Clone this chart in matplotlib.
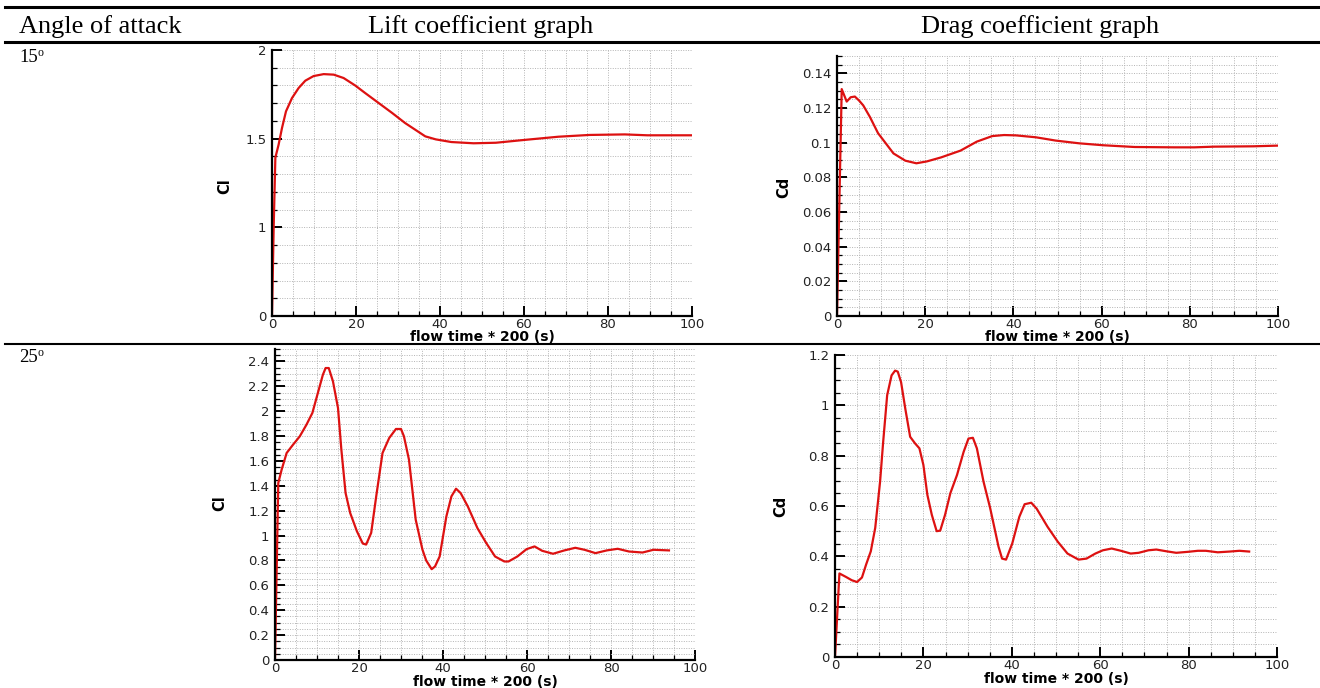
import matplotlib.pyplot as plt
from matplotlib.ticker import MultipleLocator, FuncFormatter

# lift / drag histories, alpha = 15 deg
t_cl15 = [0, 0.4, 0.8, 1.57, 2.38, 3.33, 4.76, 6.35, 7.93, 9.9, 12.3, 14.7, 17.05, 19.8, 22.2,
          25.4, 28.6, 31.7, 34.9, 36.5, 39.0, 42.7, 48.0, 53.3, 59.7, 68.2, 75.6, 84.0, 89.4, 100]
cl15 = [0.5, 1.0, 1.393, 1.466, 1.56, 1.654, 1.729, 1.786, 1.827, 1.853, 1.864, 1.861, 1.842,
        1.8, 1.757, 1.701, 1.645, 1.588, 1.538, 1.513, 1.496, 1.481, 1.474, 1.477, 1.492, 1.511,
        1.521, 1.524, 1.519, 1.519]

t_cd15 = [0, 1.07, 2.2, 3.1, 4.05, 5.0, 5.95, 7.45, 9.3, 12.8, 15.5, 18.0, 20.4, 23.6, 28.0,
          31.7, 35.2, 37.9, 40.6, 45.1, 49.6, 55.0, 60.4, 67.5, 76.5, 81.0, 85.5, 94.4, 100]
cd15 = [0, 0.1309, 0.1237, 0.1262, 0.1266, 0.1243, 0.1215, 0.1149, 0.1055, 0.0938, 0.0896,
        0.0881, 0.0892, 0.0915, 0.0954, 0.1006, 0.1038, 0.1044, 0.1042, 0.1031, 0.1012, 0.0996,
        0.0985, 0.0975, 0.0973, 0.0973, 0.0977, 0.0979, 0.0983]

# alpha = 25 deg
t_cl25 = [0, 0.78, 1.58, 2.77, 4.3, 5.9, 7.5, 8.9, 10.2, 11.4, 12.05, 12.8, 13.8, 15.0, 15.8,
          16.8, 17.9, 19.5, 20.9, 21.7, 22.9, 24.1, 25.6, 27.2, 28.8, 30.0, 30.7, 31.9, 33.5,
          35.1, 36.0, 37.3, 38.1, 39.2, 40.8, 42.0, 43.1, 44.2, 45.9, 48.2, 50.3, 52.4, 54.6,
          55.6, 57.7, 59.9, 61.8, 63.6, 66.2, 68.9, 71.5, 73.7, 76.3, 79.0, 81.6, 84.3, 87.5,
          90.1, 93.8]
cl25 = [0, 1.423, 1.53, 1.664, 1.731, 1.798, 1.892, 1.986, 2.146, 2.293, 2.347, 2.347, 2.24,
        2.026, 1.691, 1.343, 1.182, 1.035, 0.936, 0.928, 1.022, 1.316, 1.664, 1.785, 1.857,
        1.857, 1.798, 1.61, 1.128, 0.888, 0.8, 0.73, 0.752, 0.832, 1.154, 1.315, 1.377, 1.342,
        1.235, 1.06, 0.94, 0.832, 0.792, 0.792, 0.832, 0.891, 0.913, 0.878, 0.854, 0.881,
        0.902, 0.886, 0.859, 0.881, 0.894, 0.872, 0.864, 0.886, 0.881]

t_cd25 = [0, 1.0, 2.5, 3.8, 5.0, 6.1, 7.05, 8.1, 9.1, 10.2, 10.9, 11.8, 12.8, 13.6, 14.2, 14.95,
          15.9, 17.0, 18.1, 19.1, 20.0, 20.9, 21.9, 23.0, 23.8, 24.9, 26.1, 27.6, 29.1, 30.2,
          31.2, 32.1, 33.6, 35.1, 37.0, 37.8, 38.7, 40.1, 41.7, 42.9, 44.4, 45.6, 48.1, 50.4,
          52.6, 55.1, 56.9, 58.9, 60.6, 62.6, 64.7, 66.9, 68.7, 70.9, 72.7, 75.0, 77.2, 79.9,
          82.1, 83.9, 86.6, 89.3, 91.5, 93.7]
cd25 = [0, 0.332, 0.318, 0.305, 0.298, 0.316, 0.368, 0.42, 0.513, 0.697, 0.855, 1.04, 1.119,
        1.138, 1.134, 1.092, 0.987, 0.875, 0.849, 0.829, 0.763, 0.644, 0.565, 0.5, 0.502,
        0.565, 0.651, 0.723, 0.815, 0.868, 0.871, 0.829, 0.697, 0.592, 0.438, 0.391, 0.387,
        0.451, 0.557, 0.607, 0.613, 0.59, 0.517, 0.458, 0.411, 0.387, 0.391, 0.411, 0.424,
        0.431, 0.422, 0.411, 0.414, 0.424, 0.427, 0.42, 0.414, 0.418, 0.422, 0.422, 0.416,
        0.419, 0.422, 0.419]

W, H = 1320, 688
RED = '#dd1111'


def box(left, top, right, bottom):
    return [left / W, 1 - bottom / H, (right - left) / W, (bottom - top) / H]


def history_axes(fig, rect, t, c, ylim, ymajor, yminor, ylabel, ylab_xy, xlab_y, yticklabels=None):
    ax = fig.add_axes(rect)
    ax.plot(t, c, color=RED, lw=1.6, solid_joinstyle='round')
    ax.set_xlim(0, 100)
    ax.set_ylim(*ylim)
    ax.xaxis.set_major_locator(MultipleLocator(20))
    ax.xaxis.set_minor_locator(MultipleLocator(5))
    ax.yaxis.set_major_locator(MultipleLocator(ymajor))
    ax.yaxis.set_minor_locator(MultipleLocator(yminor))
    ax.yaxis.set_major_formatter(FuncFormatter(lambda v, pos: '%g' % round(v, 6)))
    if yticklabels is not None:
        ax.set_yticks(yticklabels[0])
        ax.set_yticklabels(yticklabels[1])
    ax.grid(True, which='both', ls=(0, (1, 1.5)), color='#b4b4b4', lw=0.7)
    ax.set_axisbelow(True)
    for side in ('top', 'right'):
        ax.spines[side].set_visible(False)
    for side in ('left', 'bottom'):
        ax.spines[side].set_linewidth(1.6)
    ax.tick_params(which='major', direction='in', length=7, width=1.4, labelsize=9.5,
                   labelcolor='#222222')
    ax.tick_params(which='minor', direction='in', length=3.5, width=0.9)
    ax.tick_params(axis='x', pad=1.5)
    ax.tick_params(axis='y', pad=4)
    ax.set_xlabel('flow time * 200 (s)', fontsize=10, fontweight='bold', va='top')
    ax.xaxis.set_label_coords(0.5, xlab_y)
    ax.set_ylabel(ylabel, fontsize=10.5, fontweight='bold')
    ax.yaxis.set_label_coords(*ylab_xy)
    return ax


fig = plt.figure(figsize=(W / 100, H / 100), dpi=100)

# table rules and header
for y, lw in [(7, 2.2), (42, 2.2), (344, 1.5)]:
    fig.add_artist(plt.Line2D([5 / W, 1], [1 - y / H] * 2, color='black', lw=lw))

serif = 'Liberation Serif'
fig.text(19 / W, 1 - 33 / H, 'Angle of attack', family=serif, fontsize=19, va='baseline')
fig.text(481 / W, 1 - 33 / H, 'Lift coefficient graph', family=serif, fontsize=19,
         va='baseline', ha='center')
fig.text(1040 / W, 1 - 33 / H, 'Drag coefficient graph', family=serif, fontsize=19,
         va='baseline', ha='center')
for base, angle in [(62, '15'), (362, '25')]:
    fig.text(19 / W, 1 - base / H, angle, family=serif, fontsize=13.5, va='baseline')
    fig.text(37 / W, 1 - (base - 6) / H, 'o', family=serif, fontsize=8.5, va='baseline')

history_axes(fig, box(272, 50, 692, 316), t_cl15, cl15, (0.5, 2), 0.5, 0.1, 'Cl',
             (-0.095, 0.49), -0.054,
             yticklabels=([0.5, 1, 1.5, 2], ['0', '1', '1.5', '2']))
history_axes(fig, box(837, 56, 1278, 316), t_cd15, cd15, (0, 0.15), 0.02, 0.005, 'Cd',
             (-0.104, 0.496), -0.054)
history_axes(fig, box(275, 349, 695, 660), t_cl25, cl25, (0, 2.5), 0.2, 0.05, 'Cl',
             (-0.114, 0.505), -0.048)
history_axes(fig, box(835, 355, 1277, 657), t_cd25, cd25, (0, 1.2), 0.2, 0.05, 'Cd',
             (-0.106, 0.5), -0.05)

fig.savefig('out.png', dpi=100)
